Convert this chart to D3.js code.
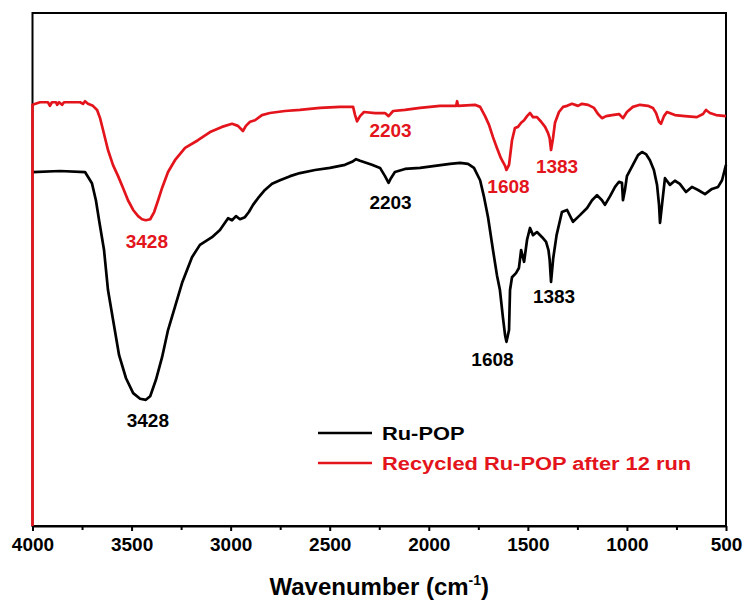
<!DOCTYPE html>
<html>
<head>
<meta charset="utf-8">
<script src="https://cdn.jsdelivr.net/npm/d3@7/dist/d3.min.js"></script>
<style>
  html, body { margin: 0; padding: 0; background: #fff; }
  svg { display: block; font-family: "Liberation Sans", Arial, sans-serif; font-weight: bold; }
</style>
</head>
<body>
<svg id="chart" width="747" height="601"></svg>
<script>
// FTIR spectra: fresh Ru-POP and Ru-POP recycled after 12 runs (transmittance, a.u.)
const wavenumberRuPOP = [4000,3861,3735,3700,3680,3664,3639,3619,3589,3563,3528,3492,3457,3428,3406,3377,3346,3316,3281,3245,3195,3155,3094,3054,3013,2993,2973,2953,2928,2908,2887,2862,2827,2791,2751,2700,2650,2574,2499,2423,2387,2367,2347,2317,2287,2246,2221,2203,2191,2171,2120,2044,1969,1893,1842,1802,1772,1741,1721,1701,1676,1656,1641,1626,1615,1608,1595,1590,1580,1560,1545,1534,1519,1504,1489,1474,1454,1428,1408,1396,1390,1383,1372,1355,1328,1302,1272,1237,1201,1176,1151,1126,1111,1085,1060,1040,1025,1020,1010,1000,970,944,924,904,884,864,848,838,833,823,808,783,758,733,702,672,641,606,571,540,520,500];
const valueRuPOP = [69.0,69.2,69.0,66.8,63.5,59.6,53.8,46.0,39.2,33.3,28.8,25.9,24.8,24.6,25.3,28.5,32.9,38.2,42.7,47.4,52.4,54.8,56.3,57.7,60.0,59.6,60.4,59.8,60.2,61.2,62.6,63.9,65.5,66.7,67.4,68.2,68.8,69.4,69.8,70.4,71.0,71.5,71.2,70.8,70.4,69.8,68.2,66.9,67.8,69.0,69.6,69.8,70.2,70.6,70.8,70.6,69.8,67.4,64.1,60.2,53.8,48.9,46.0,40.7,37.2,35.9,38.2,46.0,48.5,49.3,50.3,53.8,51.5,55.8,58.1,56.7,57.3,56.3,55.4,53.8,51.9,47.6,52.2,56.7,61.2,61.6,59.3,60.6,62.0,63.5,64.5,63.5,62.6,64.3,66.1,67.1,66.9,63.5,65.5,68.2,70.4,72.3,72.9,72.5,71.3,69.4,66.5,62.6,59.1,62.6,67.8,66.5,67.3,66.7,65.1,66.1,65.5,64.7,65.7,66.1,67.4,70.4];

const wavenumberRecycled = [4000,4000,3962,3922,3912,3902,3881,3876,3866,3851,3841,3760,3745,3735,3720,3695,3674,3659,3644,3619,3594,3568,3543,3518,3492,3467,3447,3428,3406,3386,3366,3346,3316,3281,3230,3165,3104,3044,2993,2963,2938,2923,2902,2877,2842,2802,2726,2650,2549,2448,2382,2372,2362,2347,2327,2271,2221,2203,2180,2120,2044,1943,1862,1857,1852,1767,1741,1716,1696,1676,1656,1636,1615,1608,1595,1580,1565,1550,1534,1519,1504,1489,1474,1454,1433,1413,1398,1390,1383,1373,1363,1343,1322,1302,1277,1247,1227,1196,1166,1146,1126,1105,1075,1040,1020,1000,970,934,894,869,853,838,828,813,798,758,707,647,616,601,581,550,500];
const valueRecycled = [0,82.1,82.6,82.6,81.9,82.6,82.6,82.1,82.6,82.1,82.6,82.6,82.3,82.8,82.3,81.9,81.1,79.5,77.2,73.3,70.4,68.2,65.9,63.5,61.6,60.4,59.8,59.6,59.8,61.2,63.5,65.9,69.0,71.3,73.7,75.2,76.8,77.8,78.4,78.0,77.0,78.0,78.8,79.1,80.1,80.5,80.9,81.1,81.5,81.7,81.7,80.1,78.9,79.9,80.7,80.5,80.5,79.9,80.9,81.1,81.5,81.9,81.9,82.8,81.9,82.1,81.7,79.9,78.2,75.8,73.7,71.7,70.2,69.4,70.4,75.2,77.6,77.8,78.6,79.1,79.9,80.5,79.7,79.7,78.8,77.8,76.6,75.6,73.3,75.6,78.6,80.7,81.7,81.9,82.3,81.9,82.3,82.1,81.5,80.3,79.5,79.9,80.1,80.3,79.5,80.7,81.7,82.1,81.9,81.5,80.5,78.8,78.4,79.9,80.7,80.1,79.9,79.7,80.3,81.1,80.5,80.1,79.9];

// labelled band positions (cm-1) for each spectrum
const peakRuPOP = [3428, 2203, 1608, 1383];
const peakRecycled = [3428, 2203, 1608, 1383];

const xTicks = [4000, 3500, 3000, 2500, 2000, 1500, 1000, 500];
const xMinorTicks = [3750, 3250, 2750, 2250, 1750, 1250, 750];

const seriesNames = ["Ru-POP", "Recycled Ru-POP after 12 run"];
const seriesColors = ["#000000", "#e3141b"];

const W = 747, H = 601;
const margin = { left: 32.5, top: 13, right: 21, bottom: 75 };
const FONT = "Liberation Sans, Arial, sans-serif";
const svg = d3.select("#chart");

const x = d3.scaleLinear().domain([4000, 500]).range([margin.left, W - margin.right]);
const y = d3.scaleLinear().domain([0, 100]).range([H - margin.bottom, margin.top]);

const series = [
  { name: seriesNames[0], color: seriesColors[0],
    pts: wavenumberRuPOP.map((w, i) => [w, valueRuPOP[i]]), peaks: peakRuPOP,
    labelOffsets: { 3428: [2, 27], 2203: [2, 26], 1608: [-14, 24], 1383: [3, 21] } },
  { name: seriesNames[1], color: seriesColors[1],
    pts: wavenumberRecycled.map((w, i) => [w, valueRecycled[i]]), peaks: peakRecycled,
    labelOffsets: { 3428: [1, 28], 2203: [2, 21], 1608: [2, 23], 1383: [6, 23] } }
];

// frame
const x0 = x(4000), x1 = x(500), y0 = y(0), y1 = y(100);
svg.append("rect")
  .attr("x", x0).attr("y", y1).attr("width", x1 - x0).attr("height", y0 - y1)
  .attr("fill", "none").attr("stroke", "#000").attr("stroke-width", 2);

// bottom axis: labelled major ticks and unlabelled minor ticks
const axis = svg.append("g").attr("transform", `translate(0,${y0})`)
  .call(d3.axisBottom(x).tickValues(xTicks).tickSize(5).tickSizeOuter(0).tickFormat(d3.format("d")));
axis.select(".domain").attr("stroke-width", 2);
axis.selectAll(".tick line").attr("stroke-width", 2);
axis.selectAll(".tick text").attr("font-size", 19).attr("font-weight", "bold")
  .attr("font-family", FONT).attr("fill", "#000").attr("dy", "0.92em");

svg.append("g").attr("transform", `translate(0,${y0})`)
  .call(d3.axisBottom(x).tickValues(xMinorTicks).tickSize(4).tickSizeOuter(0).tickFormat(""))
  .call(g => g.select(".domain").remove())
  .selectAll(".tick line").attr("stroke-width", 2);

// axis title
const title = svg.append("text")
  .attr("x", (x0 + x1) / 2).attr("y", 595)
  .attr("text-anchor", "middle").attr("font-size", 24).attr("fill", "#000");
title.append("tspan").text("Wavenumber (cm");
title.append("tspan").attr("font-size", 14).attr("dy", -10).text("-1");
title.append("tspan").attr("dy", 10).text(")");

// spectra
const line = d3.line().x(d => x(d[0])).y(d => y(d[1])).curve(d3.curveLinear);
series.forEach(s => {
  svg.append("path").datum(s.pts)
    .attr("d", line).attr("fill", "none")
    .attr("stroke", s.color).attr("stroke-width", 2.7).attr("stroke-linejoin", "round");
});

// band labels under each minimum
series.forEach(s => {
  s.peaks.forEach(p => {
    const pt = s.pts.find(d => d[0] === p);
    const off = s.labelOffsets[p];
    svg.append("text")
      .attr("x", x(pt[0]) + off[0]).attr("y", y(pt[1]) + off[1])
      .attr("text-anchor", "middle").attr("font-size", 19)
      .attr("fill", s.color).text(p);
  });
});

// legend
const legend = svg.append("g").attr("transform", "translate(318,433)");
series.forEach((s, i) => {
  const g = legend.append("g").attr("transform", `translate(0,${i * 30})`);
  g.append("line").attr("x1", 0).attr("x2", 54).attr("y1", 0).attr("y2", 0)
    .attr("stroke", s.color).attr("stroke-width", 2.7);
  g.append("text").attr("transform", "translate(64,7) scale(1.15,1)")
    .attr("font-size", 19).attr("fill", s.color).text(s.name);
});
</script>
</body>
</html>
